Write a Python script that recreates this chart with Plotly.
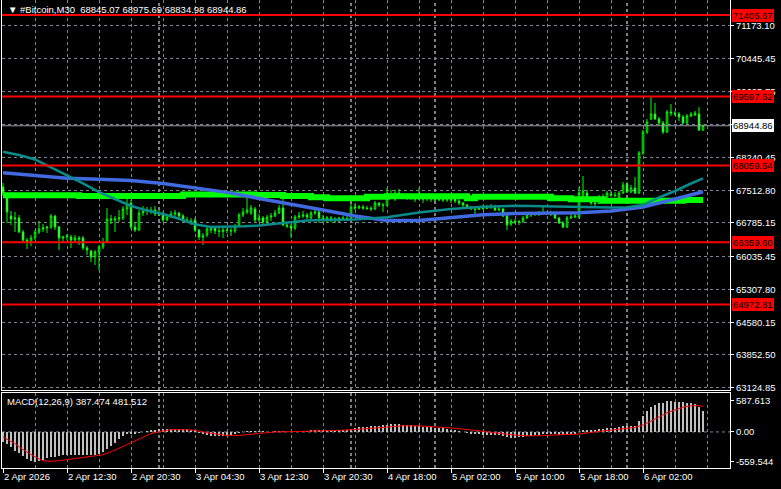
import plotly.graph_objects as go

# ---------------- data ----------------
bars = list(range(176))

opens = [67584,67362,66940,66873,66896,66584,66407,66362,66451,66584,66651,66673,66696,66940,66696,66451,66473,66473,66407,66451,
         66451,66229,66162,66029,66140,66251,66362,66873,66851,66873,66896,67096,67229,66696,66629,67007,67051,67074,67074,66985,
         66985,66851,66918,66985,67007,66940,66851,66829,66851,66629,66473,66518,66629,66673,66607,66596,66629,66618,66607,66718,
         66962,67029,67007,67096,66851,66896,66807,66918,66940,67007,67118,66740,66718,66673,66918,66940,66962,66896,67007,67029,
         66896,66873,66896,66873,66829,66896,66885,66873,67140,67118,67140,67118,67107,67096,67229,67185,67174,67362,67318,67451,
         67385,67340,67362,67340,67318,67340,67318,67340,67318,67296,67318,67296,67318,67340,67274,67229,67185,67140,67096,67085,
         67118,67107,67140,67129,67074,67096,66940,66762,66829,66807,66818,66896,66962,66973,66985,66996,67007,67018,66985,66896,
         66784,66696,66896,66918,66918,67340,67451,67296,67229,67218,67340,67362,67429,67407,67318,67451,67651,67473,67562,67451,
         68340,68807,69096,69207,69096,69007,68807,69251,69229,69207,69140,69007,69162,69184,69207,68845.07]
highs = [67673,67451,67051,67029,66962,66629,66451,66518,66629,66829,66762,66718,66985,66962,66718,66496,66540,66518,66518,66496,
         66496,66273,66185,66185,66296,66451,67118,66962,66940,67074,67162,67340,67296,66807,67074,67162,67140,67140,67162,67074,
         67029,66985,67051,67074,67029,66985,66918,66896,66896,66651,66562,66718,66718,66696,66673,66696,66673,66673,66762,67007,
         67118,67362,67185,67140,66985,66940,66962,67007,67074,67185,67340,66807,66762,66962,67029,67051,67007,67051,67140,67074,
         66962,66940,66940,66918,66918,66940,66940,67207,67229,67185,67185,67162,67162,67274,67240,67229,67562,67518,67518,67540,
         67451,67429,67407,67385,67562,67385,67407,67385,67362,67362,67385,67362,67362,67362,67318,67251,67207,67162,67162,67162,
         67185,67185,67207,67185,67140,67118,66962,66873,66873,66851,66940,67007,67029,67029,67051,67140,67051,67051,67029,66918,
         66829,66940,66985,67007,67584,67829,67518,67340,67296,67407,67429,67496,67496,67473,67496,67696,67696,67629,67807,68384,
         68851,69096,69584,69451,69140,69051,69295,69429,69273,69251,69184,69207,69251,69273,69362,68975.69]
lows = [67385,66784,66740,66584,66562,66362,66207,66273,66407,66540,66584,66562,66651,66629,66185,66340,66407,66229,66362,66296,
        66185,66074,65918,65851,65740,66207,66340,66762,66584,66807,66851,66962,66651,66584,66607,66940,66962,66985,66940,66940,
        66807,66829,66896,66918,66896,66807,66784,66740,66584,66407,66296,66473,66562,66540,66473,66451,66562,66496,66562,66696,
        66918,66985,66962,66807,66807,66762,66762,66829,66918,66985,66718,66673,66451,66629,66873,66896,66873,66873,66962,66784,
        66807,66784,66807,66784,66807,66851,66829,66851,67074,67096,67074,67074,67051,67074,67140,67029,67162,67318,67274,67362,
        67318,67296,67296,67251,67296,67229,67274,67251,67251,67274,67251,67251,67229,67229,67185,67140,67096,67074,66962,67074,
        67074,67096,67096,67051,67051,66918,66629,66718,66762,66740,66784,66873,66918,66940,66940,66962,66962,66940,66873,66762,
        66673,66673,66873,66896,66873,67318,67251,67185,67162,67207,67318,67340,67362,67362,67296,67429,67451,67451,67429,67429,
        68295,68762,69073,69073,68962,68762,68784,69162,69162,69051,68984,68984,69140,69162,68829,68834.98]
closes = [67451,67029,66873,66896,66584,66407,66362,66451,66584,66651,66673,66696,66940,66696,66451,66473,66496,66407,66451,66429,
          66229,66185,66029,66140,66251,66340,66873,66851,66873,66896,67096,67207,66696,66629,67007,67051,67074,67051,66985,67007,
          66851,66918,66985,67007,66940,66851,66829,66784,66629,66473,66496,66651,66673,66607,66596,66629,66618,66607,66718,66962,
          67029,67074,67118,66851,66896,66807,66918,66940,67007,67118,66740,66718,66673,66918,66940,66962,66918,67007,67029,66896,
          66873,66896,66873,66829,66896,66885,66873,67140,67118,67140,67118,67107,67096,67229,67185,67174,67362,67407,67451,67385,
          67340,67362,67340,67318,67340,67318,67340,67318,67296,67318,67296,67318,67296,67274,67229,67185,67140,67096,67085,67118,
          67107,67140,67129,67074,67096,66940,66740,66829,66807,66818,66896,66962,66973,66985,66996,67007,67018,66985,66896,66784,
          66696,66896,66918,66940,67451,67496,67296,67229,67218,67340,67362,67451,67407,67396,67451,67629,67473,67562,67451,68340,
          68807,69029,69207,69096,69007,68807,69251,69229,69207,69140,69007,69162,69207,69229,68851,68944.86]

# moving averages (read at sample bars)
lime_idx = [0,19,45,63,70,77,81,91,96,116,118,137,142,150,170,175]
lime_val = [67400,67385,67418,67407,67385,67356,67336,67369,67380,67333,67369,67333,67311,67280,67296,67296]
blue_idx = [0,8,16,24,32,40,48,56,64,72,80,88,96,104,112,120,128,136,144,152,160,168,175]
blue_val = [67902,67847,67778,67756,67727,67660,67567,67465,67331,67193,67074,66940,66840,66840,66909,66967,66996,67000,67011,67051,67140,67318,67480]
teal_idx = [0,4,8,12,16,20,24,28,32,36,40,44,48,52,56,60,64,68,72,76,80,88,96,104,112,120,128,136,144,152,156,160,164,168,172,175]
teal_val = [68369,68296,68196,68025,67851,67667,67469,67313,67162,67062,66985,66878,66756,66696,66696,66711,66729,66762,66807,66838,
            66851,66865,66914,67020,67096,67147,67167,67156,67131,67131,67133,67185,67351,67496,67662,67778]

# MACD
macd_main = [-186,-228,-289,-349,-397,-451,-512,-548,-559.544,-548,-523,-488,-469,-469,-451,-440,-440,-427,-427,-427,
             -427,-440,-427,-427,-409,-379,-319,-259,-199,-127,-79,-48,-36,-36,-18,-6,12,
             30,40,50,55,55,60,60,55,55,50,45,35,
             -20,-45,-60,-75,-80,-80,-75,-70,-60,-45,-25,-5,10,20,20,15,
             10,5,5,10,20,15,0,-10,-5,5,15,20,30,40,35,30,
             30,30,30,30,35,40,60,75,85,95,100,105,115,120,125,135,140,145,140,135,130,125,115,110,100,95,85,80,70,65,55,45,
             30,15,0,-15,-30,-40,-45,-50,-55,-55,-60,-65,-80,-100,-105,-105,-100,-95,-85,-75,-65,-55,-45,-40,-35,-40,-50,-60,-55,-45,-35,
             0,30,40,45,45,55,60,70,75,80,90,105,110,120,120,
             200,300,390,470,510,540,545,587.613,580,570,560,555,550,540,520,470,387.474]
sig_idx = [0,3,5,8,10,12,14,16,18,21,25,28,31,33,35,37,40,42,46,48,51,54,56,59,62,64,68,72,76,80,
           84,88,92,96,100,104,108,112,116,120,124,128,132,136,140,144,148,152,156,158,160,162,164,166,168,170,172,174,175]
sig_val = [-94,-220,-332,-470,-540,-552,-540,-520,-495,-465,-430,-340,-240,-170,-100,-30,20,44,40,31,-15,-50,-65,-65,-40,-20,0,5,10,20,
           30,45,70,95,115,115,100,75,45,10,-25,-60,-75,-65,-55,-40,0,35,65,85,130,200,280,360,420,465,490,495,481.512]

# levels & labels
levels = [71405.67, 69597.52, 68059.54, 66359.60, 64972.81]
level_text = ["71405.67", "69597.52", "68059.54", "66359.60", "64972.81"]
last_price = 68944.86
last_text = "68944.86"

ytick_vals = [71173.10, 70445.45, 69695.75, 68968.10, 68240.45, 67512.80,
              66785.15, 66035.45, 65307.80, 64580.15, 63852.50, 63124.85]
ytick_text = ["71173.10", "70445.45", "69695.75", "", "68240.45", "67512.80",
              "66785.15", "66035.45", "65307.80", "64580.15", "63852.50", "63124.85"]
macd_tick_vals = [587.613, 0.0, -559.544]
macd_tick_text = ["587.613", "0.00", "-559.544"]

xlabel_idx = [0, 16, 32, 48, 64, 80, 96, 112, 128, 144, 160]
xlabel_text = ["2 Apr 2026", "2 Apr 12:30", "2 Apr 20:30", "3 Apr 04:30", "3 Apr 12:30", "3 Apr 20:30",
               "4 Apr 18:00", "5 Apr 02:00", "5 Apr 10:00", "5 Apr 18:00", "6 Apr 02:00"]
xgrid_minor = [8, 24, 40, 56, 72, 88, 104, 120, 136, 152, 168, 176]
day_sep_idx = [39, 87, 108, 156]

title_text = "▼ #Bitcoin,M30  68845.07 68975.69 68834.98 68944.86"
macd_text = "MACD(12,26,9) 387.474 481.512"

# ---------------- styling ----------------
FONT = "Liberation Sans"
FS = 9.5
GRID = "#7a8694"
GDASH = "3px,3px"
LIME = "#00ff00"

fig = go.Figure()
fig.add_trace(go.Candlestick(
    x=bars, open=opens, high=highs, low=lows, close=closes,
    increasing=dict(line=dict(color=LIME, width=1), fillcolor="black"),
    decreasing=dict(line=dict(color=LIME, width=1), fillcolor="white"),
    whiskerwidth=0, xaxis="x", yaxis="y", hoverinfo="skip"))
fig.add_trace(go.Scatter(x=lime_idx, y=lime_val, mode="lines",
                         line=dict(color=LIME, width=6, shape="hv"), xaxis="x", yaxis="y"))
fig.add_trace(go.Scatter(x=blue_idx, y=blue_val, mode="lines",
                         line=dict(color="#4169e1", width=3.5), xaxis="x", yaxis="y"))
fig.add_trace(go.Scatter(x=teal_idx, y=teal_val, mode="lines",
                         line=dict(color="#0a8a8a", width=2.5), xaxis="x", yaxis="y"))
fig.add_trace(go.Bar(x=bars, y=macd_main, marker=dict(color="#c0c0c0", line=dict(width=0)),
                     width=0.72, xaxis="x2", yaxis="y2"))
fig.add_trace(go.Scatter(x=sig_idx, y=sig_val, mode="lines",
                         line=dict(color="red", width=1), xaxis="x2", yaxis="y2"))

axis_common = dict(showline=True, linecolor="white", linewidth=1, mirror=True, zeroline=False)
xrange = [-0.25, 181.75]
tfont = dict(family=FONT, size=FS, color="white")

fig.update_layout(
    width=781, height=489,
    margin=dict(l=2, r=51, t=0, b=21),
    paper_bgcolor="black", plot_bgcolor="black",
    showlegend=False, boxgap=0.45, bargap=0,
    font=dict(family=FONT, size=FS, color="white"),
    xaxis=dict(domain=[0, 1], anchor="y", range=xrange, tickmode="array", tickvals=xlabel_idx,
               showticklabels=False, ticks="", showgrid=True, gridcolor=GRID, griddash=GDASH, gridwidth=1,
               minor=dict(tickvals=xgrid_minor, showgrid=True, gridcolor=GRID, griddash=GDASH, ticks=""),
               rangeslider=dict(visible=False), **axis_common),
    yaxis=dict(domain=[78/468, 1], anchor="x", side="right", range=[63073.9, 71739.7],
               tickmode="array", tickvals=ytick_vals, ticktext=ytick_text,
               ticks="outside", ticklen=3, tickcolor="white", tickfont=tfont,
               showgrid=True, gridcolor=GRID, griddash=GDASH, **axis_common),
    xaxis2=dict(domain=[0, 1], anchor="y2", range=xrange, matches="x", tickmode="array",
                tickvals=xlabel_idx, ticktext=xlabel_text, ticklabelposition="outside right",
                ticks="outside", ticklen=4, tickcolor="white", tickfont=tfont,
                showgrid=True, gridcolor=GRID, griddash=GDASH,
                minor=dict(tickvals=xgrid_minor, showgrid=True, gridcolor=GRID, griddash=GDASH, ticks=""),
                **axis_common),
    yaxis2=dict(domain=[0, 75/468], anchor="x2", side="right", range=[-678, 732],
                tickmode="array", tickvals=macd_tick_vals, ticktext=macd_tick_text,
                ticks="outside", ticklen=3, tickcolor="white", tickfont=tfont,
                showgrid=False, **axis_common),
)

shapes = []
for d in day_sep_idx:
    shapes.append(dict(type="line", xref="x", yref="paper", x0=d, x1=d, y0=0, y1=1,
                       line=dict(color="white", width=1, dash=GDASH), layer="below"))
shapes.append(dict(type="line", xref="paper", yref="y2", x0=0, x1=1, y0=0, y1=0,
                   line=dict(color=GRID, width=1, dash=GDASH), layer="below"))
shapes.append(dict(type="line", xref="paper", yref="y", x0=0, x1=1, y0=last_price, y1=last_price,
                   line=dict(color="#9a9aa6", width=1)))
for lv in levels:
    shapes.append(dict(type="line", xref="paper", yref="y", x0=0, x1=1, y0=lv, y1=lv,
                       line=dict(color="#ff0000", width=2)))
fig.update_layout(shapes=shapes)

annotations = []
for lv, txt in zip(levels, level_text):
    annotations.append(dict(x=1, xref="paper", y=lv, yref="y", text=txt, showarrow=False,
                            xanchor="left", yanchor="middle", xshift=2, bgcolor="#ff0000",
                            borderpad=1, borderwidth=0, font=dict(family=FONT, size=FS, color="black")))
annotations.append(dict(x=1, xref="paper", y=last_price, yref="y", text=last_text, showarrow=False,
                        xanchor="left", yanchor="middle", xshift=2, bgcolor="white",
                        borderpad=1, borderwidth=0, font=dict(family=FONT, size=FS, color="black")))
annotations.append(dict(x=0, xref="paper", y=1, yref="paper", text=title_text, showarrow=False,
                        xanchor="left", yanchor="top", xshift=4, yshift=-2,
                        font=dict(family=FONT, size=FS, color="white")))
annotations.append(dict(x=0, xref="paper", y=75/468, yref="paper", text=macd_text, showarrow=False,
                        xanchor="left", yanchor="top", xshift=3, yshift=-1,
                        font=dict(family=FONT, size=FS, color="white")))
fig.update_layout(annotations=annotations)

fig.write_html("out.html", config={"displayModeBar": False, "staticPlot": True},
               post_script="document.body.style.margin='0';document.body.style.padding='0';"
                           "document.body.style.overflow='hidden';document.body.style.background='black';")
